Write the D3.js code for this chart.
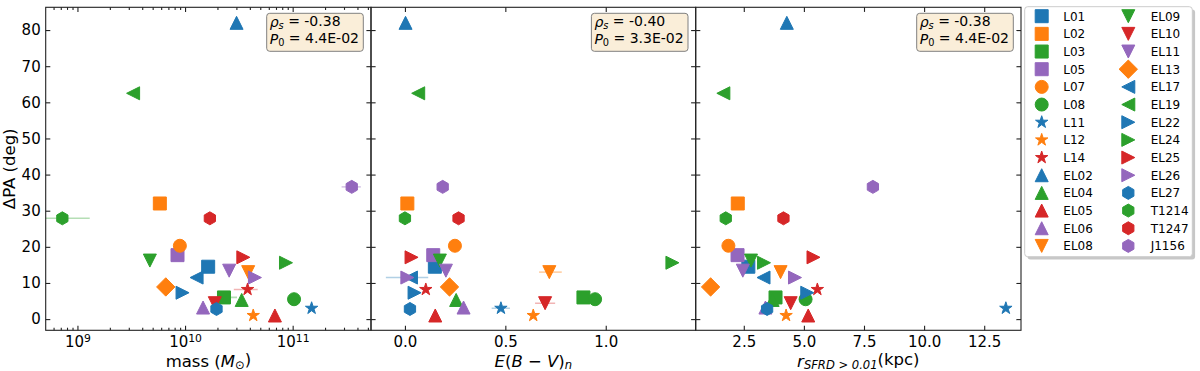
<!DOCTYPE html>
<html>
<head>
<meta charset="utf-8">
<script src="https://cdn.jsdelivr.net/npm/d3@7"></script>
<style>
body { margin: 0; background: #fff; }
svg { font-family: "DejaVu Sans", sans-serif; }
</style>
</head>
<body>
<div id="chart"></div>
<script>
// DATA
const names   = ["L01","L02","L03","L05","L07","L08","L11","L12","L14","EL02","EL04","EL05","EL06","EL08",
                 "EL09","EL10","EL11","EL13","EL17","EL19","EL22","EL24","EL25","EL26","EL27","T1214","T1247","J1156"];
const colors  = ["#1f77b4","#ff7f0e","#2ca02c","#9467bd","#ff7f0e","#2ca02c","#1f77b4","#ff7f0e","#d62728","#1f77b4","#2ca02c","#d62728","#9467bd","#ff7f0e",
                 "#2ca02c","#d62728","#9467bd","#ff7f0e","#1f77b4","#2ca02c","#1f77b4","#2ca02c","#d62728","#9467bd","#1f77b4","#2ca02c","#d62728","#9467bd"];
const markers = ["s","s","s","s","o","o","*","*","*","^","^","^","^","v",
                 "v","v","v","D","<","<",">",">",">",">","h","h","h","h"];
const dPA     = [14.5, 32.0, 6.0, 17.7, 20.3, 5.5, 3.0, 1.0, 8.2, 82.0, 5.3, 1.0, 3.2, 13.0,
                 16.2, 4.4, 13.4, 8.9, 11.5, 62.5, 7.3, 15.6, 17.1, 11.5, 2.8, 27.9, 27.9, 36.6];
const mass    = [1.64e10, 5.83e9, 2.30e10, 8.51e9, 8.95e9, 1.03e11, 1.50e11, 4.30e10, 3.81e10, 3.01e10, 3.36e10, 6.84e10, 1.47e10, 3.86e10,
                 4.71e9, 1.89e10, 2.57e10, 6.62e9, 1.28e10, 3.29e9, 9.48e9, 8.67e10, 3.48e10, 4.46e10, 1.96e10, 7.24e8, 1.70e10, 3.54e11];
const massLo  = [null, null, 2.03e10, null, null, null, null, null, 2.84e10, null, null, null, null, null,
                 null, null, null, null, null, null, null, null, null, null, null, 3.0e8, null, 2.85e11];
const massHi  = [null, null, 3.04e10, null, null, null, null, null, 4.73e10, null, null, null, null, null,
                 null, null, null, null, null, null, null, null, null, null, null, 1.30e9, null, 4.30e11];
const ebv     = [0.149, 0.012, 0.889, 0.141, 0.249, 0.947, 0.478, 0.639, 0.104, 0.003, 0.255, 0.151, 0.292, 0.719,
                 0.174, 0.698, 0.204, 0.222, 0.030, 0.066, 0.048, 1.332, 0.033, 0.012, 0.025, 0.0, 0.267, 0.188];
const ebvLo   = [null, null, null, null, null, null, 0.432, null, null, null, null, null, 0.285, 0.668,
                 null, 0.648, 0.195, null, -0.095, 0.055, null, null, null, null, null, null, null, null];
const ebvHi   = [null, null, null, null, null, null, 0.523, null, null, null, null, null, 0.31, 0.781,
                 null, 0.748, 0.225, null, 0.116, 0.08, null, null, null, null, null, null, null, null];
const rSFRD   = [2.69, 2.25, 3.82, 2.24, 1.86, 5.07, 13.40, 4.26, 5.56, 4.29, 3.70, 5.18, 3.40, 4.03,
                 2.80, 4.45, 2.46, 1.12, 3.32, 1.65, 5.14, 3.34, 5.40, 4.63, 3.47, 1.75, 4.15, 7.87];
const stats   = [["-0.38", "4.4E-02"], ["-0.40", "3.3E-02"], ["-0.38", "4.4E-02"]];
const yTicks  = [0, 10, 20, 30, 40, 50, 60, 70, 80];

// matplotlib-like marker shapes, size = marker size in px
const shapes = {
    "s": {draw(c, m) { c.rect(-m / 2, -m / 2, m, m); }},
    "o": {draw(c, m) { c.moveTo(m / 2, 0); c.arc(0, 0, m / 2, 0, 2 * Math.PI); }},
    "D": {draw(c, m) { const r = m / Math.SQRT2; c.moveTo(0, -r); c.lineTo(r, 0); c.lineTo(0, r); c.lineTo(-r, 0); c.closePath(); }},
    "^": {draw(c, m) { const h = m / 2; c.moveTo(0, -h); c.lineTo(h, h); c.lineTo(-h, h); c.closePath(); }},
    "v": {draw(c, m) { const h = m / 2; c.moveTo(0, h); c.lineTo(h, -h); c.lineTo(-h, -h); c.closePath(); }},
    "<": {draw(c, m) { const h = m / 2; c.moveTo(-h, 0); c.lineTo(h, -h); c.lineTo(h, h); c.closePath(); }},
    ">": {draw(c, m) { const h = m / 2; c.moveTo(h, 0); c.lineTo(-h, -h); c.lineTo(-h, h); c.closePath(); }},
    "h": {draw(c, m) {
        for (let k = 0; k < 6; k++) {
            const a = -Math.PI / 2 + k * Math.PI / 3;
            k ? c.lineTo(m / 2 * Math.cos(a), m / 2 * Math.sin(a)) : c.moveTo(m / 2 * Math.cos(a), m / 2 * Math.sin(a));
        }
        c.closePath();
    }},
    "*": {draw(c, m) {
        for (let k = 0; k < 10; k++) {
            const a = -Math.PI / 2 + k * Math.PI / 5;
            const r = (k % 2 ? 0.381966 : 1) * m / 2;
            k ? c.lineTo(r * Math.cos(a), r * Math.sin(a)) : c.moveTo(r * Math.cos(a), r * Math.sin(a));
        }
        c.closePath();
    }}
};

const W = 1200, H = 371;
const yTop = 7.3, yBot = 330.3;
const ms = 13;
const tickLen = 4.6, minorLen = 2.6;
const y = d3.scaleLinear([-3.1, 86.3], [yBot, yTop]);

const panels = [
    {x: d3.scaleLog([10 ** 8.705, 10 ** 11.728], [45.7, 371]), vals: mass, lo: massLo, hi: massHi,
     major: [1e9, 1e10, 1e11], log: true},
    {x: d3.scaleLinear([-0.169, 1.448], [371, 695.7]), vals: ebv, lo: ebvLo, hi: ebvHi,
     major: [0, 0.5, 1.0]},
    {x: d3.scaleLinear([0.50, 14.03], [695.7, 1021]), vals: rSFRD, lo: names.map(() => null), hi: names.map(() => null),
     major: [2.5, 5, 7.5, 10, 12.5]}
];

const svg = d3.select("#chart").append("svg").attr("width", W).attr("height", H);
const defs = svg.append("defs");

function styleAxis(a) {
    a.select(".domain").remove();
    a.attr("font-family", null).attr("font-size", 15).attr("color", "#222");
    a.selectAll(".tick line").attr("stroke-width", 1.1);
    a.selectAll(".tick text").attr("fill", "#000");
}

panels.forEach((p, i) => {
    const [x0, x1] = p.x.range();
    const g = svg.append("g");

    defs.append("clipPath").attr("id", "clip" + i)
        .append("rect").attr("x", x0).attr("y", yTop).attr("width", x1 - x0).attr("height", yBot - yTop);

    // x axes (ticks inward)
    const fmt = p.log ? () => "" : d3.format(".1f");
    g.append("g").attr("transform", `translate(0,${yBot})`)
        .call(d3.axisBottom(p.x).tickValues(p.major).tickFormat(fmt).tickSize(-tickLen).tickPadding(6))
        .call(styleAxis)
        .call(a => {
            if (p.log) a.selectAll(".tick text").each(function(d) {
                const t = d3.select(this).text("10");
                t.append("tspan").attr("dy", "-0.45em").attr("font-size", "0.72em").text(Math.round(Math.log10(d)));
            });
        });
    g.append("g").attr("transform", `translate(0,${yTop})`)
        .call(d3.axisTop(p.x).tickValues(p.major).tickFormat("").tickSize(-tickLen))
        .call(styleAxis);
    if (p.log) {
        const minor = p.x.ticks().filter(d => Math.abs(Math.log10(d) % 1) > 1e-6);
        g.append("g").attr("transform", `translate(0,${yBot})`)
            .call(d3.axisBottom(p.x).tickValues(minor).tickFormat("").tickSize(-minorLen)).call(styleAxis);
        g.append("g").attr("transform", `translate(0,${yTop})`)
            .call(d3.axisTop(p.x).tickValues(minor).tickFormat("").tickSize(-minorLen)).call(styleAxis);
    }

    // y axes
    g.append("g").attr("transform", `translate(${x0},0)`)
        .call(d3.axisLeft(y).tickValues(yTicks).tickFormat(i === 0 ? d3.format("d") : "").tickSize(-tickLen).tickPadding(5))
        .call(styleAxis);
    g.append("g").attr("transform", `translate(${x1},0)`)
        .call(d3.axisRight(y).tickValues(yTicks).tickFormat("").tickSize(-tickLen))
        .call(styleAxis);

    // marks
    const marks = g.append("g").attr("clip-path", `url(#clip${i})`);
    names.forEach((n, j) => {
        if (p.lo[j] != null) {
            marks.append("line")
                .attr("x1", p.x(p.lo[j])).attr("x2", p.x(p.hi[j]))
                .attr("y1", y(dPA[j])).attr("y2", y(dPA[j]))
                .attr("stroke", colors[j]).attr("stroke-opacity", 0.35).attr("stroke-width", 1.6);
        }
        marks.append("path")
            .attr("transform", `translate(${p.x(p.vals[j])},${y(dPA[j])})`)
            .attr("d", d3.symbol(shapes[markers[j]], ms)())
            .attr("fill", colors[j])
            .attr("stroke", colors[j]).attr("stroke-width", 1);
    });

    // spines
    g.append("rect").attr("x", x0).attr("y", yTop).attr("width", x1 - x0).attr("height", yBot - yTop)
        .attr("fill", "none").attr("stroke", "#222").attr("stroke-width", 1.1);

    // stats box
    const bx = x1 - 7.7 - 96.6;
    const sb = g.append("g");
    sb.append("rect").attr("x", bx).attr("y", 13.3).attr("width", 96.6).attr("height", 38).attr("rx", 3)
        .attr("fill", "#faeed9").attr("stroke", "#808080").attr("stroke-width", 1);
    const t1 = sb.append("text").attr("x", bx + 3).attr("y", 27.3).attr("font-size", 14);
    t1.append("tspan").attr("font-style", "italic").text("ρ");
    t1.append("tspan").attr("font-style", "italic").attr("font-size", "0.7em").attr("dy", "0.22em").text("s");
    t1.append("tspan").attr("dy", "-0.22em").text(" = " + stats[i][0]);
    const t2 = sb.append("text").attr("x", bx + 3).attr("y", 44.3).attr("font-size", 14);
    t2.append("tspan").attr("font-style", "italic").text("P");
    t2.append("tspan").attr("font-size", "0.7em").attr("dy", "0.22em").text("0");
    t2.append("tspan").attr("dy", "-0.22em").text(" = " + stats[i][1]);
});

// axis labels
const lab = svg.append("g").attr("font-size", 16.5).attr("text-anchor", "middle");
const l1 = lab.append("text").attr("x", 208.4).attr("y", 366.5);
l1.append("tspan").text("mass (");
l1.append("tspan").attr("font-style", "italic").text("M");
l1.append("tspan").attr("font-size", "0.7em").attr("dy", "0.25em").text("⊙");
l1.append("tspan").attr("dy", "-0.25em").text(")");

const l2 = lab.append("text").attr("x", 533.3).attr("y", 366.5);
l2.append("tspan").attr("font-style", "italic").text("E");
l2.append("tspan").text("(");
l2.append("tspan").attr("font-style", "italic").text("B");
l2.append("tspan").text(" − ");
l2.append("tspan").attr("font-style", "italic").text("V");
l2.append("tspan").text(")");
l2.append("tspan").attr("font-style", "italic").attr("font-size", "0.7em").attr("dy", "0.25em").text("n");

const l3 = lab.append("text").attr("x", 858.3).attr("y", 366.5);
l3.append("tspan").attr("font-style", "italic").text("r");
l3.append("tspan").attr("font-style", "italic").attr("font-size", "0.7em").attr("dy", "0.25em").text("SFRD > 0.01");
l3.append("tspan").attr("dy", "-0.25em").text("(kpc)");

lab.append("text").attr("transform", `translate(14.5,${(yTop + yBot) / 2}) rotate(-90)`).text("ΔPA (deg)");

// legend
const lg = svg.append("g");
const lx = 1024.7, ly = 6.7, lw = 167.6, lh = 250;
lg.append("rect").attr("x", lx + 2.8).attr("y", ly + 2.8).attr("width", lw).attr("height", lh).attr("rx", 3)
    .attr("fill", "#000").attr("fill-opacity", 0.22);
lg.append("rect").attr("x", lx).attr("y", ly).attr("width", lw).attr("height", lh).attr("rx", 3)
    .attr("fill", "#fff").attr("stroke", "#cccccc").attr("stroke-width", 1);
names.forEach((n, j) => {
    const col = j < 14 ? 0 : 1;
    const cy = 16.2 + (j % 14) * 17.67;
    lg.append("path")
        .attr("transform", `translate(${col ? 1128.3 : 1041.7},${cy})`)
        .attr("d", d3.symbol(shapes[markers[j]], ms)())
        .attr("fill", colors[j]).attr("stroke", colors[j]).attr("stroke-width", 1);
    lg.append("text").attr("x", col ? 1150.7 : 1063.3).attr("y", cy).attr("dy", "0.36em")
        .attr("font-size", 12).text(n);
});
</script>
</body>
</html>
